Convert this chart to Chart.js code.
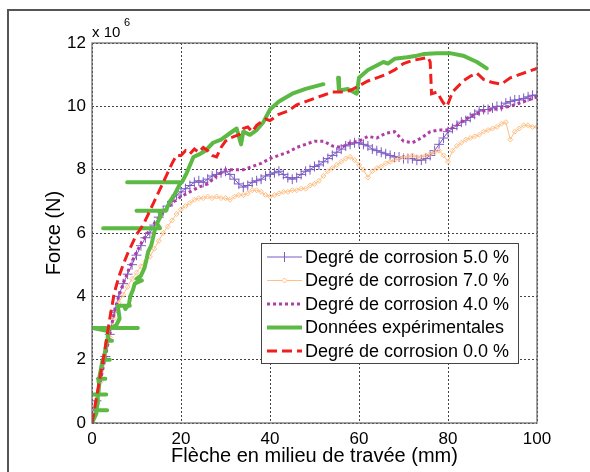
<!DOCTYPE html>
<html>
<head>
<meta charset="utf-8">
<script src="https://cdn.jsdelivr.net/npm/chart.js@4.4.1/dist/chart.umd.min.js"></script>
<style>
  html, body { margin: 0; padding: 0; background: #fff; }
  #wrap { width: 590px; height: 472px; }
</style>
</head>
<body>
<div id="wrap"><canvas id="forceChart" width="590" height="472"></canvas></div>
<script>
// deflection (mm) / force (x 10^6 N)
const xTicks = [0, 20, 40, 60, 80, 100];
const yTicks = [0, 2, 4, 6, 8, 10, 12];

const labels = [
  "Degré de corrosion 5.0 %",
  "Degré de corrosion 7.0 %",
  "Degré de corrosion 4.0 %",
  "Données expérimentales",
  "Degré de corrosion 0.0 %",
];

const purpleX = [0,1,2,3,4,5,6,7,8,9,10,11,12,13,14,15,16,17,18,19,20,21,22,23,24,25,26,27,28,29,30,31,32,33,34,35,36,37,38,39,40,41,42,43,44,45,46,47,48,49,50,51,52,53,54,55,56,57,58,59,60,61,62,63,64,65,66,67,68,69,70,71,72,73,74,75,76,77,78,79,80,81,82,83,84,85,86,87,88,89,90,91,92,93,94,95,96,97,98,99,100];
const purpleY = [0,0.7,1.4,2.1,2.8,3.5,4.0,4.4,4.7,5.0,5.3,5.6,5.85,6.0,6.25,6.5,
  6.7,6.85,7.0,7.2,7.3,7.4,7.5,7.6,7.65,7.6,7.7,7.8,7.85,7.9,7.95,7.85,7.7,7.55,7.45,7.5,7.6,7.65,7.7,7.8,
  7.85,7.9,7.95,7.85,7.75,7.7,7.75,7.85,7.95,8.0,8.1,8.15,8.25,8.35,8.45,8.55,8.65,8.75,8.8,8.85,
  8.85,8.8,8.75,8.65,8.6,8.55,8.5,8.45,8.4,8.4,8.35,8.35,8.35,8.3,8.3,8.35,8.45,8.6,8.8,9.0,
  9.2,9.3,9.4,9.5,9.55,9.65,9.75,9.85,9.9,9.9,9.95,10.0,10.0,10.1,10.15,10.2,10.2,10.25,10.3,10.35,10.35];

const orangeX = [0,1,2,3,4,5,6,7,8,9,10,11,12,13,14,15,16,17,18,19,20,21,22,23,24,25,26,27,28,29,30,31,32,33,34,35,36,37,38,39,40,41,42,43,44,45,46,47,48,49,50,51,52,53,54,55,56,57,58,59,60,61,62,63,64,65,66,67,68,69,70,71,72,73,74,75,76,77,78,79,80,81,82,83,84,85,86,87,88,89,90,91,92,93,94,95,96,97,98,99,100];
const orangeY = [0,0.65,1.3,2.0,2.7,3.3,3.8,4.05,4.3,4.55,4.75,4.95,5.1,5.25,5.5,5.75,
  6.0,6.2,6.4,6.6,6.75,6.85,6.95,7.05,7.1,7.1,7.15,7.1,7.15,7.1,7.1,7.05,7.15,7.2,7.2,7.25,7.35,7.35,7.3,7.2,
  7.15,7.2,7.25,7.3,7.3,7.35,7.35,7.4,7.4,7.5,7.55,7.65,7.8,7.95,8.05,8.15,8.25,8.35,8.4,8.3,
  8.15,8.0,7.75,7.95,8.05,8.1,8.2,8.25,8.3,8.35,8.4,8.4,8.45,8.4,8.4,8.45,8.5,8.55,8.6,8.45,
  8.25,8.6,8.75,8.85,8.95,9.0,9.05,9.1,9.2,9.25,9.3,9.35,9.45,9.5,8.95,9.2,9.3,9.4,9.4,9.35,9.35];

const magentaX = [0,1,2,3,4,5,6,7,8,9,10,11,12,13,14,16,18,20,22,24,26,28,30,32,34,36,38,40,42,44,46,48,50,52,54,56,58,60,62,64,66,68,70,72,74,76,78,80,82,84,86,88,90,92,94,96,98,100];
const magentaY = [0,0.7,1.4,2.1,2.8,3.5,4.0,4.4,4.75,5.1,5.4,5.65,5.9,6.1,6.3,
  6.65,6.95,7.15,7.3,7.45,7.55,7.8,8.0,8.0,8.0,8.1,8.2,8.35,8.45,8.55,8.7,8.8,8.9,8.9,8.75,8.7,8.85,8.9,
  9.05,9.0,9.15,9.2,8.9,8.85,9.0,9.2,9.25,9.25,9.4,9.6,9.75,9.85,9.9,9.95,10.0,10.1,10.2,10.3];

// experimental curve: horizontal excursions are unload/reload steps
const greenX = [0,1.0,0.8,3.4,1.0,1.2,1.3,0.3,3.2,1.4,1.6,1.4,3.0,1.6,2.0,2.4,4.0,2.6,3.0,3.3,4.5,3.5,3.6,0.2,10.3,4.5,5.5,6.2,5.8,8.5,7.2,7.5,8.3,8.6,9.2,9.6,11.2,10.0,11.0,11.8,12.3,12.6,13.3,13.8,14.2,2.5,15.3,14.6,15.5,15.0,10.0,16.6,17.5,18.5,19.6,19.8,7.9,20.2,21.3,22.8,24.3,25.5,27.2,29,31,32.5,33.5,34,35.5,37,38.5,40,42,45,48,52,53.6,55.3,55.5,57.5,59.5,60.0,62,65.5,66.5,68,70.8,73,74.5,77.5,80.4,83.4,86.5,88.7];
const greenY = [0,0.3,0.4,0.4,0.4,0.6,0.9,0.9,0.9,0.9,1.2,1.4,1.4,1.4,1.7,2.0,2.0,2.0,2.3,2.6,2.6,2.6,2.9,3.0,3.0,3.0,3.1,3.3,3.7,3.7,3.7,3.6,3.75,4.0,4.2,4.4,4.5,4.55,4.65,4.9,5.2,5.4,5.6,5.9,6.15,6.15,6.15,6.3,6.55,6.7,6.7,6.7,7.0,7.2,7.5,7.6,7.6,7.6,7.9,8.4,8.5,8.6,8.85,8.95,9.15,9.3,8.8,9.2,9.1,9.25,9.5,9.9,10.15,10.4,10.55,10.7,null,10.9,10.5,10.55,10.4,10.9,11.15,11.4,11.35,11.5,11.55,11.6,11.65,11.68,11.68,11.6,11.4,11.2];

const redX = [0,1,2,3,4,5,6,7,8,9,10,11,12,13,14,15,16,17,18,19,20,21,22,23,24,25,26,27,28,29,30,31,32,33,34,35,36,37,38,39,40,42,44,46,48,50,52,54,56,58,60,62,64,66,68,70,72,74,75.5,76,76.3,77.5,79,79.8,81,83.4,85,86.5,88,90,92,94,96,98,100];
const redY = [0,0.8,1.6,2.4,3.3,4.1,4.6,5.0,5.35,5.65,5.95,6.15,6.4,6.7,7.0,7.3,7.6,7.9,8.2,8.45,
  8.45,8.6,8.5,8.65,8.55,8.7,8.6,8.45,8.4,8.7,8.9,9.0,9.05,9.1,9.3,9.35,9.2,9.4,9.5,9.6,9.55,
  9.75,9.85,10.05,10.15,10.25,10.35,10.45,10.45,10.5,10.65,10.8,10.9,11.0,11.15,11.35,11.45,11.5,
  11.55,11.4,10.4,10.45,10.1,10.0,10.45,10.8,10.95,11.05,10.85,
  10.75,10.7,10.9,11.0,11.1,11.2];

const COLORS = {
  purple: "#7b5cc4",
  orange: "#ffbf85",
  magenta: "#b23ca6",
  green: "#5cb944",
  red: "#f01e1e",
};

function toPoints(xs, ys) {
  return xs.map((x, i) => ({ x: x, y: ys[i] }));
}

const FONT = "'Liberation Sans', Arial, sans-serif";

const decorPlugin = {
  id: "decor",
  beforeDraw(chart) {
    const ctx = chart.ctx;
    ctx.save();
    ctx.fillStyle = "#fff";
    ctx.fillRect(0, 0, chart.width, chart.height);
    ctx.strokeStyle = "#555";
    ctx.lineWidth = 2;
    ctx.beginPath();
    ctx.moveTo(8, 472);
    ctx.lineTo(8, 10);
    ctx.lineTo(590, 10);
    ctx.stroke();
    ctx.restore();
  },
  afterDraw(chart) {
    const ctx = chart.ctx;
    const a = chart.chartArea;
    ctx.save();
    // axes box
    ctx.strokeStyle = "#666";
    ctx.lineWidth = 1.2;
    ctx.strokeRect(a.left, a.top, a.right - a.left, a.bottom - a.top);

    // exponent label
    ctx.fillStyle = "#000";
    ctx.font = "15px " + FONT;
    ctx.textBaseline = "alphabetic";
    ctx.fillText("x 10", a.left, a.top - 6);
    ctx.font = "11px " + FONT;
    ctx.fillText("6", a.left + 32, a.top - 17);

    // legend
    const bx = 261, by = 243, bw = 257, bh = 120;
    ctx.fillStyle = "#fff";
    ctx.fillRect(bx, by, bw, bh);
    ctx.strokeStyle = "#444";
    ctx.lineWidth = 1;
    ctx.strokeRect(bx + 0.5, by + 0.5, bw, bh);

    const styles = [
      { color: COLORS.purple, width: 1, dash: [], marker: "cross" },
      { color: COLORS.orange, width: 1, dash: [], marker: "diamond" },
      { color: COLORS.magenta, width: 3, dash: [3, 3], marker: null },
      { color: COLORS.green, width: 4, dash: [], marker: null },
      { color: COLORS.red, width: 3, dash: [10, 5], marker: null },
    ];
    const x0 = 267, x1 = 302;
    labels.forEach((txt, i) => {
      const cy = by + 14 + i * 23.5;
      const s = styles[i];
      ctx.strokeStyle = s.color;
      ctx.lineWidth = s.width;
      ctx.setLineDash(s.dash);
      ctx.beginPath();
      ctx.moveTo(x0, cy);
      ctx.lineTo(x1, cy);
      ctx.stroke();
      ctx.setLineDash([]);
      const mx = (x0 + x1) / 2;
      if (s.marker === "cross") {
        ctx.lineWidth = 1;
        ctx.beginPath();
        ctx.moveTo(mx, cy - 5);
        ctx.lineTo(mx, cy + 5);
        ctx.stroke();
      } else if (s.marker === "diamond") {
        ctx.lineWidth = 1;
        ctx.beginPath();
        ctx.moveTo(mx, cy - 2.5);
        ctx.lineTo(mx + 2.5, cy);
        ctx.lineTo(mx, cy + 2.5);
        ctx.lineTo(mx - 2.5, cy);
        ctx.closePath();
        ctx.fillStyle = "#fff";
        ctx.fill();
        ctx.stroke();
      }
      ctx.fillStyle = "#000";
      ctx.font = "18px " + FONT;
      ctx.textBaseline = "middle";
      ctx.fillText(txt, 305, cy + 1);
    });
    ctx.restore();
  },
};

const ctx = document.getElementById("forceChart");

new Chart(ctx, {
  type: "scatter",
  data: {
    datasets: [
      {
        label: labels[4],
        data: toPoints(redX, redY),
        showLine: true,
        borderColor: COLORS.red,
        borderWidth: 3,
        borderDash: [10, 5],
        pointRadius: 0,
        order: 0,
      },
      {
        label: labels[3],
        data: toPoints(greenX, greenY),
        showLine: true,
        spanGaps: false,
        borderColor: COLORS.green,
        borderWidth: 4,
        borderJoinStyle: "round",
        borderCapStyle: "round",
        pointRadius: 0,
        order: 1,
      },
      {
        label: labels[2],
        data: toPoints(magentaX, magentaY),
        showLine: true,
        borderColor: COLORS.magenta,
        borderWidth: 3,
        borderDash: [3, 3],
        pointRadius: 0,
        order: 2,
      },
      {
        label: labels[1],
        data: toPoints(orangeX, orangeY),
        showLine: true,
        borderColor: COLORS.orange,
        borderWidth: 1,
        pointStyle: "rectRot",
        pointRadius: 2.5,
        pointBorderWidth: 1,
        pointBackgroundColor: "rgba(255,255,255,0)",
        pointBorderColor: COLORS.orange,
        order: 3,
      },
      {
        label: labels[0],
        data: toPoints(purpleX, purpleY),
        showLine: true,
        borderColor: COLORS.purple,
        borderWidth: 1,
        pointStyle: "cross",
        pointRadius: 5,
        pointBorderWidth: 1,
        pointBorderColor: COLORS.purple,
        order: 4,
      },
    ],
  },
  options: {
    responsive: false,
    animation: false,
    layout: {
      autoPadding: false,
      padding: { left: 0, right: 53, top: 43, bottom: 0 },
    },
    plugins: {
      legend: { display: false },
      tooltip: { enabled: false },
    },
    scales: {
      x: {
        type: "linear",
        min: 0,
        max: 100,
        afterBuildTicks: (scale) => {
          scale.ticks = xTicks.map((v) => ({ value: v }));
        },
        afterFit: (scale) => {
          scale.height = 49;
        },
        ticks: {
          color: "#000",
          padding: 6,
          maxRotation: 0,
          font: { family: FONT, size: 17 },
        },
        grid: {
          color: "#444",
          lineWidth: 1,
          drawTicks: false,
        },
        border: { display: false, dash: [2, 2] },
        title: {
          display: true,
          text: "Flèche en milieu de travée (mm)",
          color: "#000",
          font: { family: FONT, size: 20 },
          padding: { top: 0, bottom: 4 },
        },
      },
      y: {
        type: "linear",
        min: 0,
        max: 12,
        afterBuildTicks: (scale) => {
          scale.ticks = yTicks.map((v) => ({ value: v }));
        },
        afterFit: (scale) => {
          scale.width = 92;
        },
        ticks: {
          color: "#000",
          padding: 6,
          font: { family: FONT, size: 17 },
        },
        grid: {
          color: "#444",
          lineWidth: 1,
          drawTicks: false,
        },
        border: { display: false, dash: [2, 2] },
        title: {
          display: true,
          text: "Force (N)",
          color: "#000",
          font: { family: FONT, size: 20 },
          padding: { top: 42, bottom: 0 },
        },
      },
    },
  },
  plugins: [decorPlugin],
});
</script>
</body>
</html>
